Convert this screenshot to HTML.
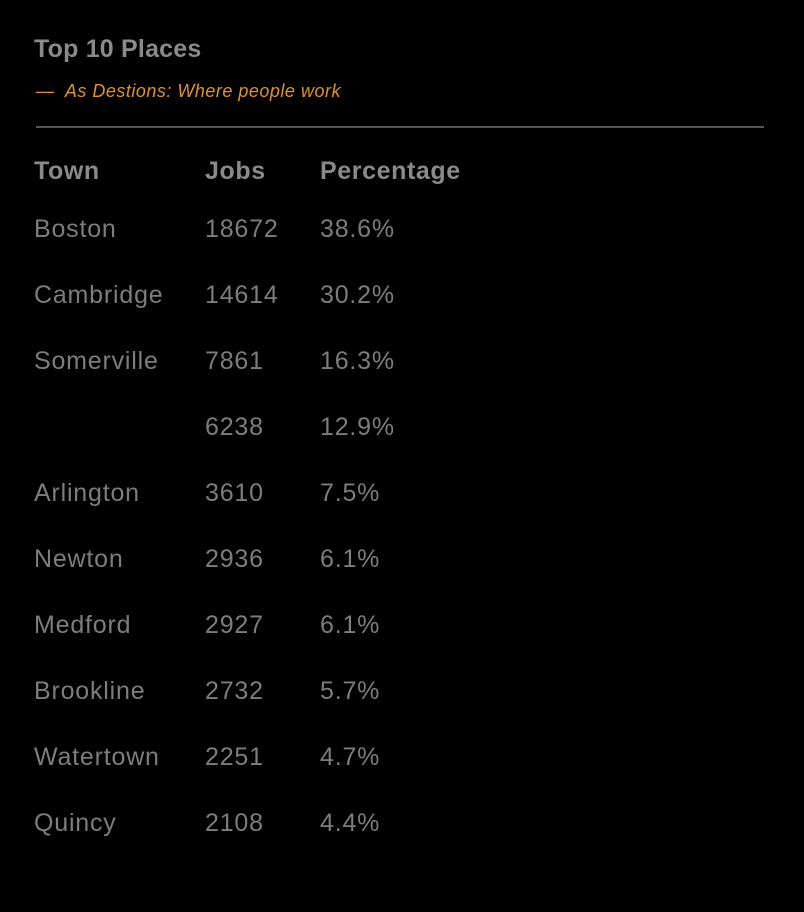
<!DOCTYPE html>
<html><head><meta charset="utf-8"><style>
html,body{margin:0;padding:0;background:#000;width:804px;height:912px;overflow:hidden}
body{font-family:"Liberation Sans",sans-serif;color:#7d7d7d;position:relative}
.t{position:absolute;white-space:nowrap;line-height:1}
#title{left:34px;top:37px;font-size:25px;font-weight:bold;color:#8a8a8a;letter-spacing:0.2px}
#sub{left:36px;top:82px;font-size:18px;font-style:italic;color:#e0922a;letter-spacing:0.5px}
#rule{position:absolute;left:36px;top:126px;width:728px;height:2px;background:#555}
.h{font-size:25px;font-weight:bold;color:#8a8a8a;top:159px;letter-spacing:0.6px}
.c{font-size:25px;color:#7d7d7d;letter-spacing:0.8px}
</style></head><body>
<div class="t" id="title">Top 10 Places</div>
<div class="t" id="sub">—&nbsp; As Destions: Where people work</div>
<div id="rule"></div>
<div class="t h" style="left:34px">Town</div>
<div class="t h" style="left:205px">Jobs</div>
<div class="t h" style="left:320px">Percentage</div>
<div id="rows"></div>
<script>
const towns=["Boston","Cambridge","Somerville","","Arlington","Newton","Medford","Brookline","Watertown","Quincy"];
const jobs=[18672,14614,7861,6238,3610,2936,2927,2732,2251,2108];
const pcts=["38.6%","30.2%","16.3%","12.9%","7.5%","6.1%","6.1%","5.7%","4.7%","4.4%"];
const rows=document.getElementById('rows');
const cols=[34,205,320];
for(let i=0;i<jobs.length;i++){
  const top=217+i*66;
  const vals=[towns[i],String(jobs[i]),pcts[i]];
  const names=['town-cell','jobs-cell','percentage-cell'];
  for(let j=0;j<3;j++){
    const d=document.createElement('div');
    d.className='t c';
    d.style.left=cols[j]+'px';
    d.style.top=top+'px';
    d.textContent=vals[j];
    
    
    rows.appendChild(d);
  }
}
</script>
</body></html>
